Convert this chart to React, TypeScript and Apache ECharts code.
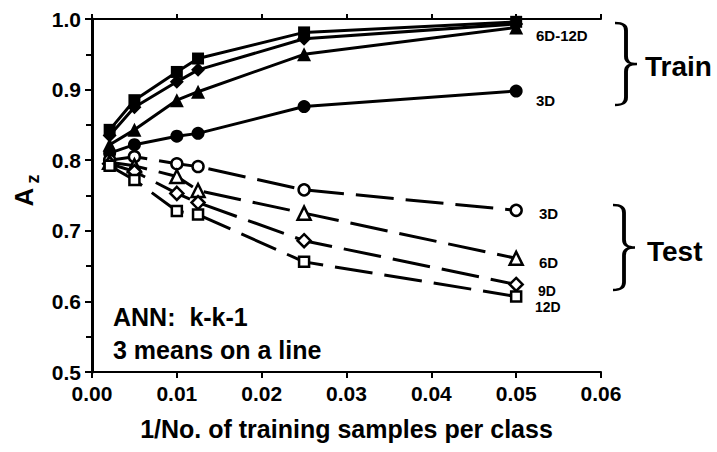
import React, { useEffect, useRef } from "react";
import * as echarts from "echarts";

const xVals = [0.00208, 0.005, 0.01, 0.0125, 0.025, 0.05];
const train3D = [0.81, 0.822, 0.834, 0.838, 0.876, 0.898];
const train6D = [0.822, 0.843, 0.885, 0.897, 0.95, 0.988];
const train9D = [0.835, 0.875, 0.911, 0.928, 0.972, 0.993];
const train12D = [0.843, 0.885, 0.925, 0.944, 0.981, 0.996];
const test3D = [0.8, 0.805, 0.795, 0.791, 0.758, 0.729];
const test6D = [0.797, 0.792, 0.777, 0.757, 0.725, 0.661];
const test9D = [0.795, 0.784, 0.753, 0.74, 0.686, 0.624];
const test12D = [0.792, 0.772, 0.728, 0.723, 0.656, 0.607];

const xTicks = [0, 0.01, 0.02, 0.03, 0.04, 0.05, 0.06];
const yTicks = [0.5, 0.6, 0.7, 0.8, 0.9, 1.0];

const FONT = "'Liberation Sans', Arial, Helvetica, sans-serif";

const braceD =
  "M0,0 C6,0 8,3 8,9 L8,41 C8,47 10,50 16,50 C10,50 8,53 8,59 L8,91 C8,97 6,100 0,100";
let registered = false;

function pts(ys: number[]) {
  return ys.map((y, i) => [xVals[i], y]);
}

export default function App() {
  const ref = useRef<HTMLDivElement>(null);
  useEffect(() => {
    if (!registered) {
      echarts.graphic.registerShape("brace", echarts.graphic.extendPath(braceD, {}) as any);
      registered = true;
    }
    document.body.style.margin = "0";
    const chart = echarts.init(ref.current!, null, { renderer: "svg" });
    const trainSeries = (name: string, data: number[], symbol: string, size: number) => ({
      name,
      type: "line",
      data: pts(data),
      symbol,
      symbolSize: size,
      showSymbol: true,
      lineStyle: { color: "#000", width: 3 },
      itemStyle: { color: "#000", borderColor: "#000", borderWidth: 0 },
      z: 3,
    });
    const testSeries = (name: string, data: number[], symbol: string, size: number) => ({
      name,
      type: "line",
      data: pts(data),
      symbol,
      symbolSize: size,
      showSymbol: true,
      lineStyle: { color: "#000", width: 3, type: [38, 12] },
      itemStyle: { color: "#fff", borderColor: "#000", borderWidth: 2.5 },
      z: 3,
    });
    const txt = (text: string, x: number, y: number, size: number, extra: any = {}) => ({
      type: "text",
      x,
      y,
      style: {
        text,
        fill: "#000",
        font: `bold ${size}px ${FONT}`,
        align: "left",
        verticalAlign: "middle",
      },
      ...extra,
    });
    chart.setOption({
      animation: false,
      backgroundColor: "#fff",
      textStyle: { fontFamily: FONT },
      grid: { left: 92, right: 116, top: 19, bottom: 80, containLabel: false },
      xAxis: [
        {
          type: "value",
          min: xTicks[0],
          max: xTicks[xTicks.length - 1],
          interval: 0.01,
          position: "bottom",
          axisLine: { lineStyle: { color: "#000", width: 2 } },
          axisTick: { show: true, inside: false, length: 6, lineStyle: { color: "#000", width: 2 } },
          axisLabel: {
            color: "#000",
            fontWeight: "bold",
            fontSize: 21,
            margin: 11,
            formatter: (v: number) => v.toFixed(2),
          },
          splitLine: { show: false },
          name: "1/No. of training samples per class",
          nameLocation: "middle",
          nameGap: 44,
          nameTextStyle: { color: "#000", fontWeight: "bold", fontSize: 25 },
        },
        {
          type: "value",
          min: xTicks[0],
          max: xTicks[xTicks.length - 1],
          interval: 0.01,
          position: "top",
          axisLine: { show: true, lineStyle: { color: "#000", width: 2 } },
          axisTick: { show: true, inside: false, length: 5, lineStyle: { color: "#000", width: 2 } },
          axisLabel: { show: false },
          splitLine: { show: false },
        },
      ],
      yAxis: [
        {
          type: "value",
          min: yTicks[0],
          max: yTicks[yTicks.length - 1],
          interval: 0.1,
          position: "left",
          axisLine: { show: true, lineStyle: { color: "#000", width: 3 } },
          axisTick: { show: true, inside: false, length: 7, lineStyle: { color: "#000", width: 2 } },
          minorTick: { show: true, splitNumber: 2, length: 5, lineStyle: { color: "#000", width: 2 } },
          axisLabel: {
            color: "#000",
            fontWeight: "bold",
            fontSize: 21,
            margin: 11,
            formatter: (v: number) => v.toFixed(1),
          },
          splitLine: { show: false },
        },
        {
          type: "value",
          min: yTicks[0],
          max: yTicks[yTicks.length - 1],
          interval: 0.05,
          position: "right",
          axisLine: { show: true, lineStyle: { color: "#000", width: 2 } },
          axisTick: { show: true, inside: true, length: 6, lineStyle: { color: "#000", width: 2 } },
          axisLabel: { show: false },
          splitLine: { show: false },
        },
      ],
      series: [
        trainSeries("Train 3D", train3D, "circle", 13),
        trainSeries("Train 6D", train6D, "triangle", 14),
        trainSeries("Train 9D", train9D, "diamond", 14),
        trainSeries("Train 12D", train12D, "rect", 12),
        testSeries("Test 3D", test3D, "circle", 11),
        testSeries("Test 6D", test6D, "triangle", 13),
        testSeries("Test 9D", test9D, "diamond", 13),
        testSeries("Test 12D", test12D, "rect", 10),
      ],
      graphic: [
        {
          type: "brace",
          x: 615,
          y: 23,
          scaleX: 22 / 16,
          scaleY: 82 / 100,
          style: { fill: "none", stroke: "#000", lineWidth: 3, strokeNoScale: true },
        },
        {
          type: "brace",
          x: 613,
          y: 205,
          scaleX: 22 / 16,
          scaleY: 85 / 100,
          style: { fill: "none", stroke: "#000", lineWidth: 3, strokeNoScale: true },
        },
        txt("Train", 645, 66, 28),
        txt("Test", 647, 251, 28),
        txt("6D-12D", 536, 35, 15),
        txt("3D", 536, 100, 15),
        txt("3D", 539, 213, 15),
        txt("6D", 539, 262, 15),
        txt("9D", 538, 291, 14),
        txt("12D", 535, 307, 14),
        txt("ANN:  k-k-1", 113, 317, 25),
        txt("3 means on a line", 113, 350, 25),
        {
          type: "text",
          x: 24,
          y: 197,
          rotation: Math.PI / 2,
          style: {
            text: "A",
            fill: "#000",
            font: `bold 26px ${FONT}`,
            align: "center",
            verticalAlign: "middle",
          },
        },
        {
          type: "text",
          x: 33,
          y: 179,
          rotation: Math.PI / 2,
          style: {
            text: "z",
            fill: "#000",
            font: `bold 18px ${FONT}`,
            align: "center",
            verticalAlign: "middle",
          },
        },
      ],
    });
    return () => chart.dispose();
  }, []);
  return (
    <div
      ref={ref}
      style={{ position: "fixed", left: 0, top: 0, width: 717, height: 452, background: "#fff" }}
    />
  );
}
